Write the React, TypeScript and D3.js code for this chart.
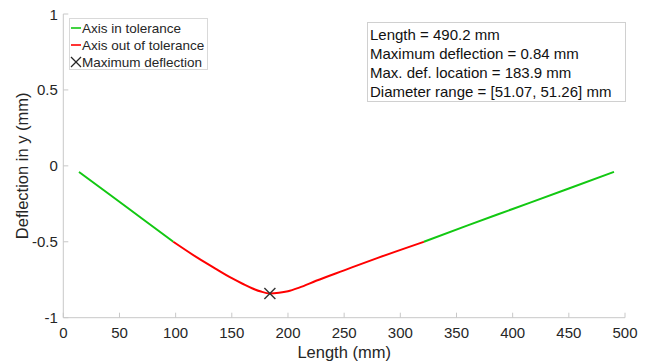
import React from "react";
import * as d3 from "d3";

// Measured deflection profile along the shaft
const lengthMm = [14, 40, 70, 97.9, 120, 135, 150, 160, 168, 176, 183.9, 192, 200, 210, 225, 250, 280, 321, 360, 400, 450, 490.2];
const deflectionMm = [-0.04, -0.182, -0.347, -0.5, -0.608, -0.675, -0.74, -0.778, -0.806, -0.828, -0.84, -0.836, -0.826, -0.802, -0.757, -0.688, -0.606, -0.5, -0.392, -0.284, -0.149, -0.04];
const tolerance = 0.5;

const xTicks = [0, 50, 100, 150, 200, 250, 300, 350, 400, 450, 500];
const yTicks = [-1, -0.5, 0, 0.5, 1];
const yTickLabels = ["-1", "-0.5", "0", "0.5", "1"];

const maxDef = { x: 183.9, y: -0.84 };

const legendItems = ["Axis in tolerance", "Axis out of tolerance", "Maximum deflection"];
const infoLines = [
  "Length = 490.2 mm",
  "Maximum deflection = 0.84 mm",
  "Max. def. location = 183.9 mm",
  "Diameter range = [51.07, 51.26] mm",
];

const W = 651;
const H = 363;
const margin = { left: 63.3, right: 26, top: 14, bottom: 45.3 };
const FONT = "'Liberation Sans', Arial, Helvetica, sans-serif";
const GREEN = "#12c812";
const RED = "#ff0000";
const AXIS = "#c8c8c8";
const TEXT = "#262626";

type Pt = [number, number];

// Group consecutive intervals by whether they exceed the tolerance
function splitSegments(xs: number[], ys: number[]) {
  const segs: { out: boolean; pts: Pt[] }[] = [];
  for (let i = 0; i < xs.length - 1; i++) {
    const out = Math.max(Math.abs(ys[i]), Math.abs(ys[i + 1])) > tolerance + 1e-9;
    const a: Pt = [xs[i], ys[i]];
    const b: Pt = [xs[i + 1], ys[i + 1]];
    const last = segs[segs.length - 1];
    if (!last || last.out !== out) {
      segs.push({ out, pts: [a, b] });
    } else {
      last.pts.push(b);
    }
  }
  return segs;
}

export default function App() {
  const x = d3.scaleLinear().domain([0, 500]).range([margin.left, W - margin.right]);
  const y = d3.scaleLinear().domain([-1, 1]).range([H - margin.bottom, margin.top]);

  const line = d3
    .line<Pt>()
    .x((d) => x(d[0]))
    .y((d) => y(d[1]))
    .curve(d3.curveMonotoneX);

  const segs = splitSegments(lengthMm, deflectionMm);

  const x0 = x(0);
  const y0 = y(-1);
  const mx = x(maxDef.x);
  const my = y(maxDef.y);
  const ms = 5.5;

  return (
    <div style={{ position: "fixed", left: 0, top: 0 }}>
      <svg width={W} height={H} style={{ display: "block", background: "#fff" }} fontFamily={FONT}>
        {/* axes */}
        <line x1={x0} y1={y(1)} x2={x0} y2={y0} stroke={AXIS} strokeWidth={1} />
        <line x1={x0} y1={y0} x2={x(500)} y2={y0} stroke={AXIS} strokeWidth={1} />
        {xTicks.map((t) => (
          <g key={"xt" + t}>
            <line x1={x(t)} x2={x(t)} y1={y0} y2={y0 - 5} stroke={AXIS} />
            <text x={x(t)} y={y0 + 20.5} textAnchor="middle" fontSize={15} fill={TEXT}>
              {t}
            </text>
          </g>
        ))}
        {yTicks.map((t, i) => (
          <g key={"yt" + t}>
            <line x1={x0} x2={x0 + 5} y1={y(t)} y2={y(t)} stroke={AXIS} />
            <text x={x0 - 5.5} y={y(t) + 5.5} textAnchor="end" fontSize={15} fill={TEXT}>
              {yTickLabels[i]}
            </text>
          </g>
        ))}
        <text x={(x0 + x(500)) / 2} y={H - 5} textAnchor="middle" fontSize={16.5} fill={TEXT}>
          Length (mm)
        </text>
        <text
          transform={`translate(28,${y(0)}) rotate(-90)`}
          textAnchor="middle"
          fontSize={16.5}
          fill={TEXT}
        >
          Deflection in y (mm)
        </text>

        {/* deflection curve */}
        {segs.map((s, i) => (
          <path key={"s" + i} d={line(s.pts) || ""} fill="none" stroke={s.out ? RED : GREEN} strokeWidth={2} />
        ))}

        {/* maximum deflection marker */}
        <g stroke="#333" strokeWidth={1.4}>
          <line x1={mx - ms} y1={my - ms} x2={mx + ms} y2={my + ms} />
          <line x1={mx - ms} y1={my + ms} x2={mx + ms} y2={my - ms} />
        </g>

        {/* legend */}
        <g>
          <rect x={69.5} y={18.5} width={138} height={51} fill="#fff" stroke="#d9d9d9" />
          {legendItems.map((label, i) => {
            const cy = 28 + i * 17;
            return (
              <g key={label}>
                {i < 2 ? (
                  <line x1={71} x2={81} y1={cy} y2={cy} stroke={i === 0 ? GREEN : RED} strokeWidth={1.6} />
                ) : (
                  <g stroke="#262626" strokeWidth={1.2}>
                    <line x1={71} y1={cy - 5} x2={81} y2={cy + 5} />
                    <line x1={71} y1={cy + 5} x2={81} y2={cy - 5} />
                  </g>
                )}
                <text x={82} y={cy + 4.8} fontSize={13.5} fill={TEXT}>
                  {label}
                </text>
              </g>
            );
          })}
        </g>

        {/* summary box */}
        <g>
          <rect x={367.5} y={22.5} width={258} height={79} fill="#fff" stroke="#d0d0d0" />
          {infoLines.map((t, i) => (
            <text key={t} x={370} y={39.5 + i * 19} fontSize={15} fill="#111">
              {t}
            </text>
          ))}
        </g>
      </svg>
    </div>
  );
}
